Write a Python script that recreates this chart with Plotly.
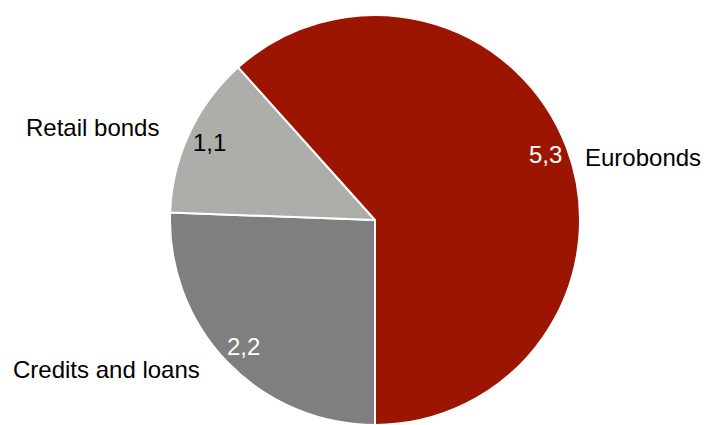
import math
import plotly.graph_objects as go

labels = ["Credits and loans", "Retail bonds", "Eurobonds"]
values = [2.2, 1.1, 5.3]
colors = ["#7F7F7F", "#ADADA9", "#9C1500"]
value_font_colors = ["white", "black", "white"]
# per-label pixel nudges for the category names (layout only)
name_shift = [(-25, -7), (-28, 5), (17, -11)]

W, H = 706, 425
ML, MR, MT, MB = 44, 0, 15, 0
ROT = 180
FONT = "Liberation Sans, Arial"

fig = go.Figure(go.Pie(
    labels=labels, values=values, sort=False, direction="clockwise",
    rotation=ROT, marker=dict(colors=colors, line=dict(color="white", width=2)),
    textinfo="none", hoverinfo="label+value", showlegend=False,
))

pw, ph = W - ML - MR, H - MT - MB
R = min(pw, ph) / 2
cx, cy = ML + pw / 2, MT + ph / 2

def to_paper(px, py):
    return (px - ML) / pw, (H - MB - py) / ph

total = sum(values)
start = ROT
annotations = []
for i, (lab, v) in enumerate(zip(labels, values)):
    span = v / total * 360
    mid = math.radians(start + span / 2)
    start += span
    # value label inside, near the rim
    r_in = 0.89 * R
    px, py = cx + r_in * math.sin(mid), cy - r_in * math.cos(mid)
    x, y = to_paper(px, py)
    annotations.append(dict(x=x, y=y, xref="paper", yref="paper",
                            text=f"{v:.1f}".replace(".", ","), showarrow=False,
                            font=dict(family=FONT, size=24, color=value_font_colors[i]),
                            xanchor="center", yanchor="middle"))
    # category label outside
    px, py = cx + R * math.sin(mid), cy - R * math.cos(mid)
    x, y = to_paper(px, py)
    right_side = math.sin(mid) > 0
    annotations.append(dict(x=x, y=y, xref="paper", yref="paper", text=lab,
                            showarrow=False,
                            font=dict(family=FONT, size=24, color="black"),
                            xanchor="left" if right_side else "right", yanchor="middle",
                            xshift=name_shift[i][0], yshift=name_shift[i][1]))

fig.update_layout(
    width=W, height=H, margin=dict(l=ML, r=MR, t=MT, b=MB),
    paper_bgcolor="white", plot_bgcolor="white",
    annotations=annotations,
)
fig.write_html("out.html")
